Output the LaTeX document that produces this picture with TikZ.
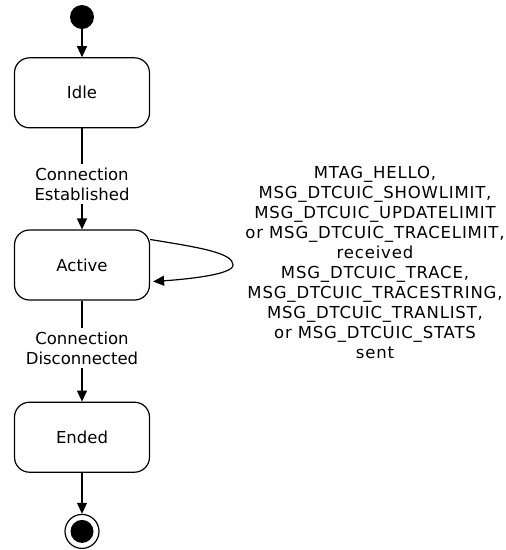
\documentclass[tikz,border=0pt]{standalone}
\usepackage{fontspec}
\setmainfont{DejaVu Sans}
\usetikzlibrary{arrows.meta, calc, positioning}

\begin{document}
\begin{tikzpicture}[x=1pt, y=-1pt,
    every node/.style={font=\fontsize{16.5}{20}\selectfont, align=center},
    state/.style={draw, line width=1.2pt, rounded corners=15pt, minimum width=135pt, minimum height=70pt},
    trans/.style={line width=1.2pt, -{Triangle[length=11pt, width=10pt]}}]
        % Okvir slike
        \useasboundingbox (0,0) rectangle (506,550);

        % Pocetno stanje
        \node[circle, fill=black, minimum size=24pt, inner sep=0pt] (start) at (82,17) {};

        % Stanja
        \node[state, below=28pt of start] (idle) {Idle};
        \node[state, below=101pt of idle] (active) {Active};
        \node[state, below=101pt of active] (ended) {Ended};

        % Zavrsno stanje
        \node[circle, draw, line width=1.2pt, minimum size=34pt, inner sep=0pt, below=41pt of ended] (final) {};
        \fill (final) circle (11.5pt);

        % Prijelazi
        \draw[trans] (start) -- (idle);
        \draw[trans] (idle) -- node[fill=white, pos=0.55] (lblEst) {Connection\\Established} (active);
        \draw[trans] (active) -- node[fill=white, pos=0.47] (lblDis) {Connection\\Disconnected} (ended);
        \draw[trans] (ended) -- (final);

        % Petlja na stanju Active
        \draw[trans] ($(active.east)+(0,-25.5)$) .. controls +(50,8) and +(0,-12) .. ($(active.east)+(83,0)$)
            .. controls +(0,10) and +(30,-2) .. ($(active.east)+(3,16.5)$);
        \node[font=\fontsize{16.5}{20}\selectfont\addfontfeatures{LetterSpace=5}] (msgs) at (375,262) {MTAG\_HELLO,\\MSG\_DTCUIC\_SHOWLIMIT,\\MSG\_DTCUIC\_UPDATELIMIT\\or MSG\_DTCUIC\_TRACELIMIT,\\received\\MSG\_DTCUIC\_TRACE,\\MSG\_DTCUIC\_TRACESTRING,\\MSG\_DTCUIC\_TRANLIST,\\or MSG\_DTCUIC\_STATS\\sent};

    \end{tikzpicture}
\end{document}
